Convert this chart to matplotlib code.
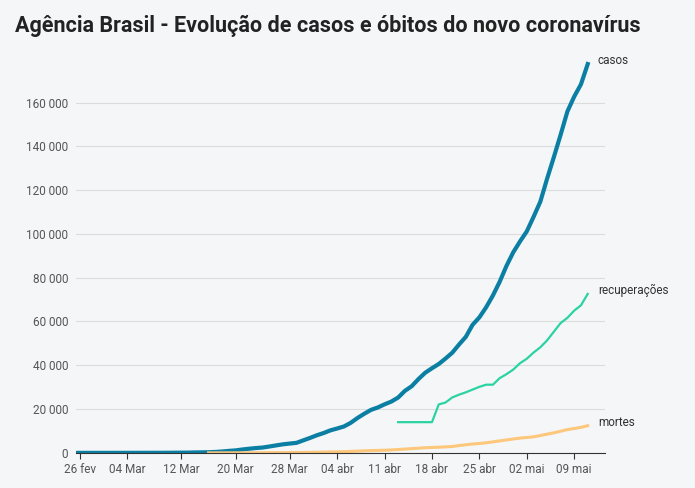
import matplotlib
matplotlib.use("Agg")
import matplotlib.pyplot as plt
import numpy as np
import pandas as pd

start = pd.Timestamp("2020-02-26")
end_day = 75
casos = [1,1,1,1,2,2,2,3,8,13,19,25,25,34,52,77,98,121,200,234,291,428,621,904,1128,1546,1891,2201,2433,2915,3417,3904,4256,4579,5717,6836,8044,9056,10278,11130,12056,13717,15927,17857,19638,20727,22169,23430,25262,28320,30425,33682,36599,38654,40581,43079,45757,49492,52995,58509,61888,66501,71886,78162,85380,91589,96559,101147,107780,114715,125218,135106,145328,155939,162699,168331,177589]
mortes = [1,4,6,11,18,25,34,46,57,77,92,114,136,159,201,240,299,359,431,486,553,667,800,941,1056,1124,1223,1328,1532,1736,1924,2141,2347,2462,2575,2741,2906,3331,3704,4057,4286,4603,5017,5466,5901,6329,6750,7025,7321,7921,8536,9146,9897,10627,11123,11653,12400]
recuperacoes = [14026,14026,14026,14026,14026,14026,22130,22991,25318,26573,27655,28907,30152,31142,31142,34132,35935,38039,40937,42991,45815,48221,51370,55350,59297,61685,64957,67384,72597]

bg = "#f5f6f8"
fig = plt.figure(figsize=(6.95, 4.88), dpi=100, facecolor=bg)
ax = fig.add_axes([0.11, 0.072, 0.76, 0.83], facecolor=bg)
fig.text(0.022, 0.935, "Agência Brasil - Evolução de casos e óbitos do novo coronavírus",
         fontsize=15.5, fontweight="bold", color="#222222", family="Roboto")

def xs(n):
    return end_day - n + 1 + np.arange(n)

x = xs(len(casos)); xm = xs(len(mortes)); xr = xs(len(recuperacoes))
ax.plot(x, casos, color="#0b7fa3", lw=3)
ax.plot(xr, recuperacoes, color="#2bd3a3", lw=1.6)
ax.plot(xm, mortes, color="#fdc77c", lw=2.2)
ax.plot([0, xm[0]], [0, 0], color="#fdc77c", lw=2.2, zorder=1)

for xv, yv, t in [(x[-1], casos[-1], "casos"), (xr[-1], recuperacoes[-1], "recuperações"), (xm[-1], mortes[-1], "mortes")]:
    ax.text(xv + 1.5, yv + 1500, t, fontsize=8.5, color="#333333", va="center", family="Roboto")

ticks = list(range(0, 170000, 20000))
ax.set_yticks(ticks)
ax.set_yticklabels([f"{t:,}".replace(",", " ") for t in ticks], fontsize=8.5, color="#555555", family="Roboto")
xt_labels = ["26 fev","04 Mar","12 Mar","20 Mar","28 Mar","04 abr","11 abr","18 abr","25 abr","02 mai","09 mai"]
xt_dates = ["2020-02-26","2020-03-04","2020-03-12","2020-03-20","2020-03-28","2020-04-04","2020-04-11","2020-04-18","2020-04-25","2020-05-02","2020-05-09"]
ax.set_xticks([(pd.Timestamp(d) - start).days for d in xt_dates])
ax.set_xticklabels(xt_labels, fontsize=8.5, color="#555555", family="Roboto")
ax.set_xlim(-0.5, 77.5)
ax.set_ylim(0, 185000)
ax.grid(axis="y", color="#dcdcdc", lw=0.8)
ax.set_axisbelow(True)
for s in ["top", "right", "left"]:
    ax.spines[s].set_visible(False)
ax.spines["bottom"].set_color("#333333")
ax.tick_params(axis="y", length=0, pad=6)
ax.tick_params(axis="x", length=4, color="#333333")
fig.savefig("out.png", dpi=100, facecolor=bg)
